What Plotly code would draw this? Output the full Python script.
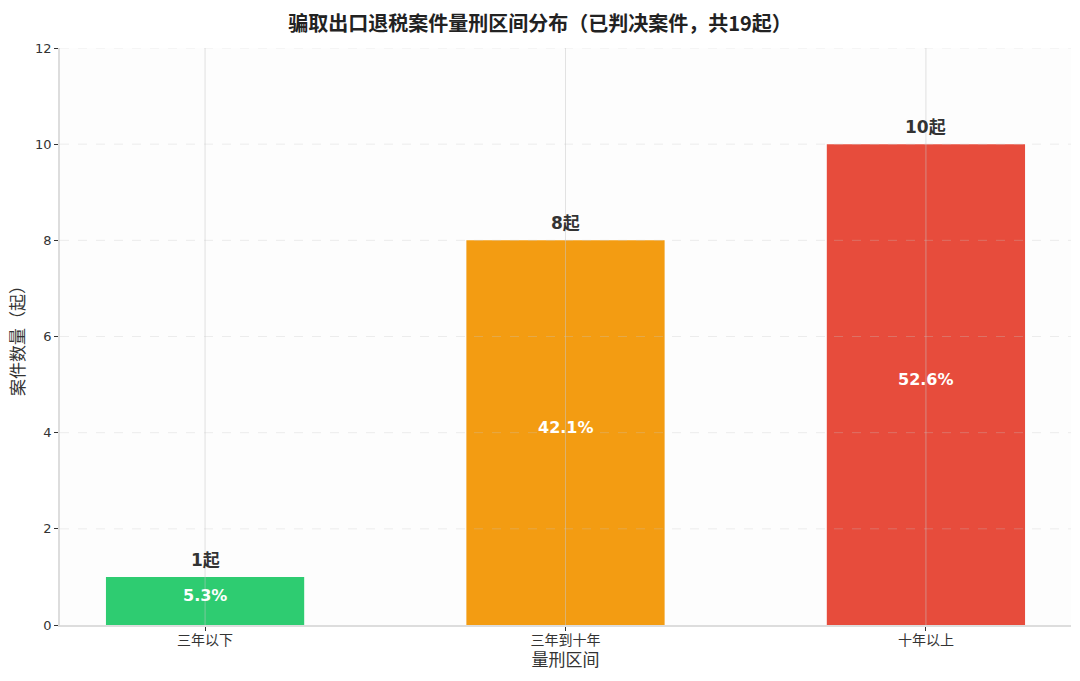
import plotly.graph_objects as go

categories = ["三年以下", "三年到十年", "十年以上"]
case_counts = [1, 8, 10]
percent_labels = ["5.3%", "42.1%", "52.6%"]
bar_colors = ["#2ecc71", "#f39c12", "#e74c3c"]
y_ticks = [0, 2, 4, 6, 8, 10, 12]

cjk = "DejaVu Sans, Noto Sans CJK SC, sans-serif"

fig = go.Figure()
fig.add_trace(go.Bar(
    x=categories, y=case_counts, width=0.55,
    marker=dict(color=bar_colors, line=dict(width=0)),
    hoverinfo="skip", showlegend=False,
))

# count labels above bars, share labels in the middle of each bar
for c, v, p in zip(categories, case_counts, percent_labels):
    fig.add_annotation(x=c, y=v, text=f"{v}起", showarrow=False,
                       yanchor="bottom", yshift=5,
                       font=dict(family=cjk, size=17, color="#333333", weight="bold"))
    fig.add_annotation(x=c, y=v / 2, text=p, showarrow=False,
                       yanchor="middle", yshift=5,
                       font=dict(family=cjk, size=16, color="white", weight="bold"))

# grid drawn over bars like the original
for c in categories:
    fig.add_shape(type="line", xref="x", yref="paper", x0=c, x1=c, y0=0, y1=1,
                  line=dict(color="rgba(200,200,200,0.5)", width=1), layer="above")
for t in y_ticks[1:]:
    fig.add_shape(type="line", xref="paper", yref="y", x0=0, x1=1, y0=t, y1=t,
                  line=dict(color="rgba(200,200,200,0.3)", width=1, dash="dash"), layer="above")

fig.update_layout(
    width=1064, height=665,
    margin=dict(l=52, r=1, t=40, b=48),
    paper_bgcolor="white", plot_bgcolor="#fdfdfd",
    title=dict(text="骗取出口退税案件量刑区间分布（已判决案件，共19起）",
               x=0.5, xanchor="center", y=0.976, yanchor="middle",
               font=dict(family="Noto Sans CJK SC", size=20, color="#222222", weight="bold")),
    font=dict(family=cjk, color="#333333"),
)
fig.update_xaxes(
    range=[-0.4025, 2.4025], showgrid=False,
    showline=True, linecolor="#dddddd", linewidth=1.5,
    ticks="outside", ticklen=4, tickcolor="#333333",
    tickfont=dict(family=cjk, size=14, color="#333333"),
    ticklabelstandoff=-3,
    title=dict(text="量刑区间", font=dict(family=cjk, size=17, color="#333333"), standoff=8),
)
fig.update_yaxes(
    range=[0, 12], tickvals=y_ticks, showgrid=False, zeroline=False,
    showline=True, linecolor="#dddddd", linewidth=1.5,
    ticks="outside", ticklen=4, tickcolor="#333333",
    tickfont=dict(family=cjk, size=13, color="#333333"),
    title=dict(text="案件数量（起）", font=dict(family=cjk, size=17, color="#333333"), standoff=12),
)

fig.write_html("out.html")
